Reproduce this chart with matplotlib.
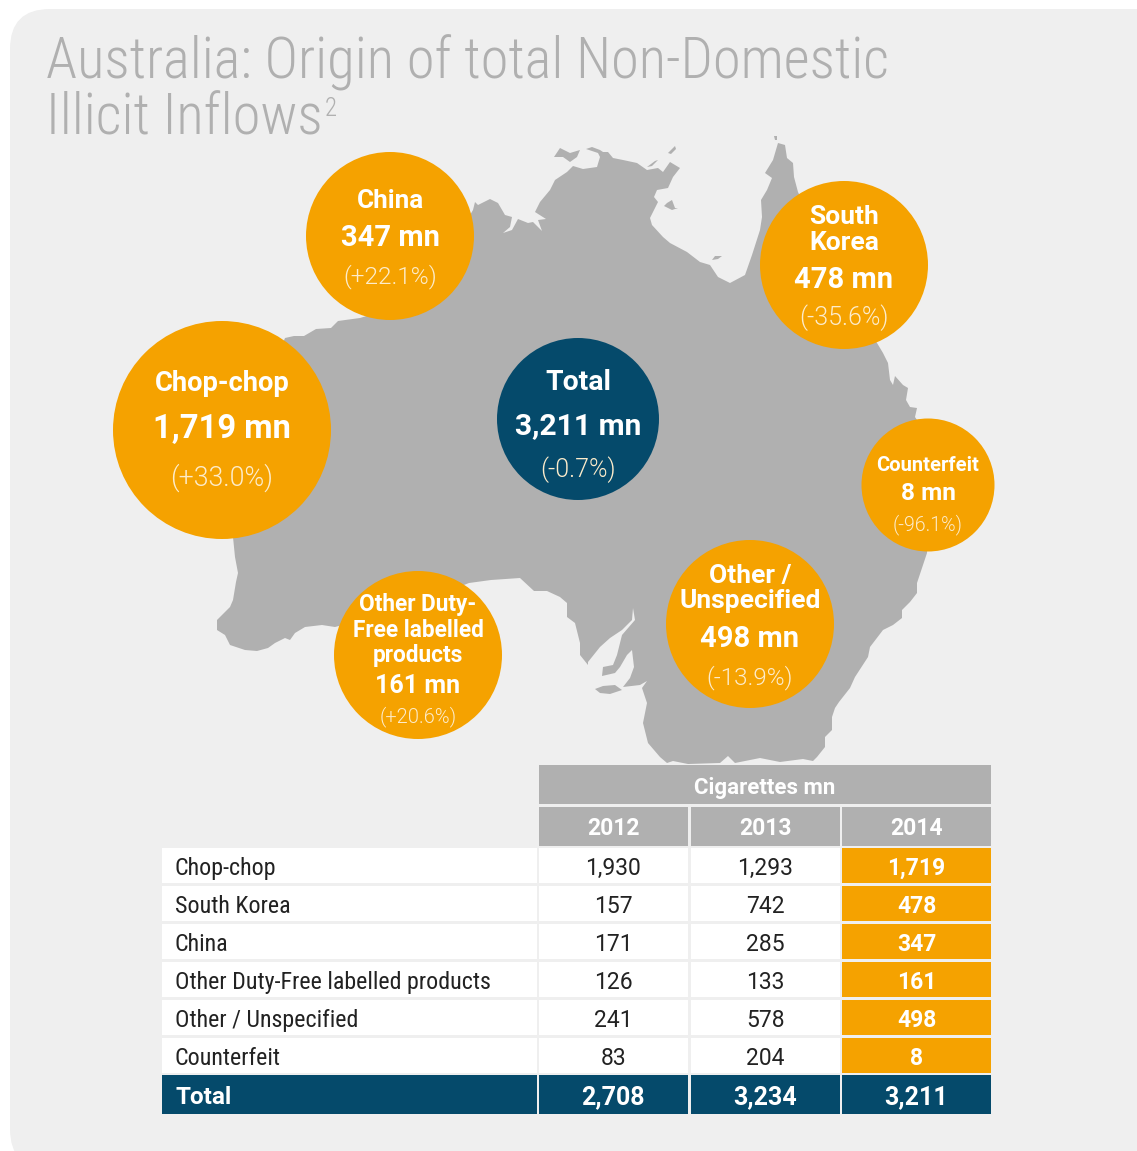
import matplotlib.pyplot as plt
from matplotlib.patches import Circle, FancyBboxPatch, Polygon, Rectangle

ORANGE = '#f5a200'
NAVY = '#054a6b'
GREY = '#b0b0b0'
PANEL = '#efefef'
FONT = 'Roboto Condensed'
NUMFONT = 'Roboto'

# table data
rows = ['Chop-chop', 'South Korea', 'China', 'Other Duty-Free labelled products',
        'Other / Unspecified', 'Counterfeit']
years = ['2012', '2013', '2014']
vals_2012 = ['1,930', '157', '171', '126', '241', '83']
vals_2013 = ['1,293', '742', '285', '133', '578', '204']
vals_2014 = ['1,719', '478', '347', '161', '498', '8']
totals = ['2,708', '3,234', '3,211']

# bubbles: label lines, volume, change
bubble_names = [['China'], ['South', 'Korea'], ['Chop-chop'], ['Total'], ['Counterfeit'],
                ['Other /', 'Unspecified'], ['Other Duty-', 'Free labelled', 'products']]
bubble_vals = ['347 mn', '478 mn', '1,719 mn', '3,211 mn', '8 mn', '498 mn', '161 mn']
bubble_pcts = ['(+22.1%)', '(-35.6%)', '(+33.0%)', '(-0.7%)', '(-96.1%)', '(-13.9%)', '(+20.6%)']

# map outline, in pixels, clockwise from Cape York
map_outline = [
    (778, 143), (785, 145), (787, 158), (793, 163), (794, 177), (798, 192), (830, 260), (877, 343),
    (883, 353), (888, 363), (890, 380), (893, 385), (895, 376), (903, 385), (908, 388), (906, 400),
    (910, 407), (917, 408), (915, 417), (917, 420), (930, 480), (927, 553), (917, 583), (917, 593),
    (910, 602), (902, 610), (902, 618), (893, 625), (883, 630), (870, 647), (868, 657), (855, 677),
    (850, 688), (839, 702), (835, 708), (832, 717), (832, 730), (825, 737), (825, 747), (817, 757),
    (813, 761), (803, 759), (780, 762), (760, 758), (735, 763), (728, 756), (720, 763), (688, 764),
    (673, 761), (667, 763), (660, 757), (648, 743), (643, 723), (647, 703), (642, 688), (647, 681),
    (640, 685), (623, 687), (630, 678), (634, 667), (632, 650), (627, 655), (620, 667), (615, 673),
    (602, 676), (603, 667), (613, 665), (617, 655), (622, 635), (635, 620), (633, 608), (632, 620),
    (622, 630), (610, 638), (600, 647), (588, 662), (588, 665), (580, 655), (580, 643), (575, 623),
    (567, 617), (567, 603), (560, 597), (547, 591), (534, 591), (520, 578), (491, 580), (469, 583),
    (400, 610), (335, 627), (322, 625), (305, 627), (295, 633), (290, 640), (285, 638), (275, 643),
    (268, 648), (257, 651), (245, 650), (230, 645), (225, 635), (217, 630), (217, 620), (222, 615),
    (230, 607), (233, 600), (236, 582), (238, 573), (235, 557), (233, 537), (240, 450), (285, 338),
    (294, 336), (304, 336), (316, 329), (331, 328), (338, 321), (360, 318), (420, 300), (473, 210),
    (475, 202), (478, 205), (490, 199), (498, 203), (505, 215), (512, 217), (510, 227), (503, 233),
    (512, 230), (518, 219), (528, 223), (533, 222), (542, 231), (538, 220), (546, 219), (535, 212),
    (540, 202), (550, 190), (555, 180), (567, 172), (573, 166), (583, 169), (597, 167), (600, 157),
    (598, 153), (586, 149), (592, 147), (600, 150), (603, 152), (608, 152), (613, 158), (623, 160),
    (637, 163), (647, 170), (658, 168), (663, 172), (670, 162), (680, 168), (673, 177), (668, 188),
    (657, 190), (654, 197), (658, 202), (650, 218), (652, 225), (663, 237), (670, 243), (687, 252),
    (700, 262), (710, 265), (718, 277), (730, 283), (745, 275), (752, 255), (760, 230), (762, 217),
    (761, 200), (767, 190), (772, 178), (765, 173), (773, 160),
]
islands = [
    [(554, 157), (560, 148), (570, 153), (580, 150), (577, 157), (570, 162), (563, 157)],  # Melville
    [(667, 203), (672, 200), (675, 208), (678, 208), (672, 210), (664, 206)],  # Groote
    [(712, 260), (715, 256), (722, 256), (718, 259)],
    [(595, 689), (603, 686), (615, 685), (622, 690), (610, 694), (600, 693)],  # Kangaroo
    [(647, 167), (655, 161), (658, 160), (652, 166)],
    [(668, 153), (675, 146), (676, 149), (671, 154)],
    [(774, 136), (777, 136), (777, 140), (775, 140)],
]

fig = plt.figure(figsize=(11.37, 11.51), dpi=100)
ax = fig.add_axes([0, 0, 1, 1])
ax.set_xlim(0, 1137)
ax.set_ylim(1151, 0)
ax.axis('off')

ax.add_patch(FancyBboxPatch((10, 9), 1250, 1160, boxstyle='round,pad=0,rounding_size=40',
                            fc=PANEL, ec='none', zorder=0))

# title
ax.text(46, 78, 'Australia: Origin of total Non-Domestic', fontsize=40.8, color=GREY, family=FONT,
        fontweight=300)
ax.text(46, 134, 'Illicit Inflows', fontsize=40.8, color=GREY, family=FONT, fontweight=300)
ax.text(325, 116, '2', fontsize=18, color=GREY, family=FONT, fontweight=300)

# map
ax.add_patch(Polygon(map_outline, closed=True, fc=GREY, ec='none', zorder=1))
for isl in islands:
    ax.add_patch(Polygon(isl, closed=True, fc=GREY, ec='none', zorder=1))

# bubbles
centres = [(390, 236), (844, 265), (222, 430), (578, 419), (928, 485), (750, 624), (418, 655)]
radii = [84, 84, 109, 81, 66.5, 84, 84]
name_y = [[208], [224, 250], [391], [390], [471], [583, 608], [611, 637, 662]]
val_y = [246, 288, 438, 434, 500, 647, 693]
pct_y = [283, 325, 486, 477, 530, 684, 722]
name_fs = [18.7, 19, 19.7, 20.4, 14.5, 19, 16.3]
val_fs = [21, 21, 23.6, 21.6, 17.6, 21, 18]
pct_fs = [17.6, 18, 19.3, 18, 14.1, 17.5, 14.4]
for i, (cx, cy) in enumerate(centres):
    col = NAVY if bubble_names[i][0] == 'Total' else ORANGE
    ax.add_patch(Circle((cx, cy), radii[i], fc=col, ec='none', zorder=2))
    for line, y in zip(bubble_names[i], name_y[i]):
        ax.text(cx, y, line, color='white', fontsize=name_fs[i], fontweight='bold', family=NUMFONT,
                ha='center', zorder=3)
    ax.text(cx, val_y[i], bubble_vals[i], color='white', fontsize=val_fs[i], fontweight='bold',
            family=NUMFONT, ha='center', zorder=3)
    ax.text(cx, pct_y[i], bubble_pcts[i], color='#fdeccb', fontsize=pct_fs[i], family=NUMFONT,
            fontweight=300, ha='center', zorder=3)

# table
col_left = [538.5, 691, 842]
col_w = [149.5, 148.5, 149]
row_top = [848, 886, 924, 962, 1000, 1038]
row_h = 35


def cell(x, y, w, h, color, txt, tcolor, base, bold=False, fs=16.5, left=False, fam=NUMFONT):
    ax.add_patch(Rectangle((x, y), w, h, fc=color, ec='none', zorder=2))
    tx = x + 13 if left else x + w / 2
    ax.text(tx, y + base, txt, color=tcolor, fontsize=fs, family=fam, zorder=3,
            ha='left' if left else 'center', fontweight='bold' if bold else 'normal')


cell(538.5, 765, 452.5, 39, GREY, 'Cigarettes mn', 'white', 29, True, 16)
for j, yr in enumerate(years):
    cell(col_left[j], 807, col_w[j], 39, GREY, yr, 'white', 28, True, 16.5)
for i, name in enumerate(rows):
    cell(162, row_top[i], 375, row_h, 'white', name, '#222222', 27, False, 17.3, left=True, fam=FONT)
    cell(col_left[0], row_top[i], col_w[0], row_h, 'white', vals_2012[i], '#222222', 27)
    cell(col_left[1], row_top[i], col_w[1], row_h, 'white', vals_2013[i], '#222222', 27)
    cell(col_left[2], row_top[i], col_w[2], row_h, ORANGE, vals_2014[i], 'white', 27, True, 16.5)
cell(162, 1075, 375, 39, NAVY, 'Total', 'white', 29, True, 17.5, left=True)
for j, t in enumerate(totals):
    cell(col_left[j], 1075, col_w[j], 39, NAVY, t, 'white', 29, True, 18)

fig.savefig('out.png', dpi=100)
